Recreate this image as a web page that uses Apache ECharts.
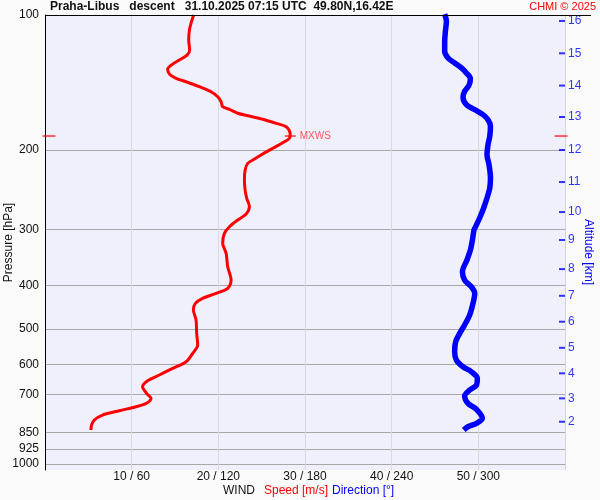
<!DOCTYPE html>
<html>
<head>
<meta charset="utf-8">
<script src="https://cdn.jsdelivr.net/npm/echarts@6/dist/echarts.min.js"></script>
<style>
html,body{margin:0;padding:0;background:#fafafa;}
#chart{width:600px;height:500px;}
</style>
</head>
<body>
<div id="chart"></div>
<script>
// ---- data ----
var titleText = 'Praha-Libus   descent   31.10.2025 07:15 UTC  49.80N,16.42E';
var creditText = 'CHMI \u00a9 2025';

var pressureTicks = [100, 200, 300, 400, 500, 600, 700, 850, 925, 1000];
var speedTicks = [10, 20, 30, 40, 50];
var directionTicks = [60, 120, 180, 240, 300];

var altitudeKm = [16, 15, 14, 13, 12, 11, 10, 9, 8, 7, 6, 5, 4, 3, 2];
var altitudePressure = [103.1, 121.7, 143.6, 168.7, 199.8, 235.5, 274.7, 317, 368, 422, 482, 551, 628, 714, 805];

var speedPressure = [100, 104.3, 108.0, 113.7, 119.7, 122.8, 126.0, 128.6, 132.1, 135.3, 138.4, 140.8, 144.4, 148.2, 152.1, 156.0, 160.0, 162.2, 165.5, 167.9, 170.7, 174.3, 177.4, 183.4, 188.2, 192.5, 198.1, 204.0, 209.3, 214.0, 221.4, 233.1, 245.4, 256.0, 267.3, 277.5, 286.1, 296.2, 306.4, 322.5, 339.5, 363.6, 389.3, 406.2, 416.8, 427.6, 438.7, 453.9, 477.8, 511.6, 543.3, 566.9, 591.8, 612.2, 633.5, 652.3, 672.6, 695.8, 714.0, 732.4, 745.4, 760.8, 777.9, 798.0, 818.7, 840.0];
var speedValues = [17.15, 16.85, 16.66, 16.58, 16.69, 16.39, 15.50, 14.73, 14.15, 14.35, 15.12, 16.28, 17.81, 19.16, 19.93, 20.32, 20.50, 21.28, 22.24, 23.59, 25.12, 26.67, 27.83, 28.29, 28.21, 27.43, 26.28, 25.12, 24.17, 23.39, 23.09, 23.01, 23.09, 23.28, 23.59, 23.21, 22.24, 21.28, 20.70, 20.50, 20.90, 21.08, 21.47, 21.08, 19.74, 18.19, 17.35, 17.12, 17.43, 17.50, 17.62, 17.04, 16.28, 14.73, 13.19, 11.84, 11.26, 11.72, 12.23, 11.72, 10.50, 8.57, 6.64, 5.68, 5.37, 5.30];

var dirPressure = [99.5, 103.3, 108.7, 114.5, 120.5, 124.7, 127.9, 131.2, 134.6, 138.6, 143.4, 147.9, 152.5, 158.4, 162.5, 166.7, 171.1, 177.0, 186.3, 194.5, 204.7, 215.5, 230.7, 242.8, 255.6, 269.0, 283.2, 295.5, 301.2, 317.0, 333.7, 351.3, 372.9, 389.3, 402.9, 416.8, 438.7, 465.8, 490.2, 511.6, 534.1, 562.2, 586.7, 607.2, 623.0, 644.4, 667.0, 684.3, 705.7, 732.4, 755.3, 791.2, 811.8, 826.0, 840.0];
var dirValues = [276.7, 277.9, 277.2, 276.7, 276.7, 279.0, 283.6, 288.3, 291.7, 294.5, 293.5, 290.5, 289.4, 291.7, 297.5, 303.2, 306.7, 308.4, 307.9, 306.7, 306.0, 307.4, 308.4, 307.9, 306.0, 303.7, 300.9, 298.2, 297.0, 295.9, 294.5, 292.1, 289.0, 290.5, 295.2, 297.5, 296.3, 294.0, 290.5, 287.1, 284.3, 283.6, 284.8, 289.4, 295.2, 299.3, 298.7, 294.0, 290.5, 292.8, 298.7, 302.8, 298.7, 292.8, 289.9];

var mxwsLabel = 'MXWS';
var mxwsPressure = 186;
var mxwsSpeed = 28.3;
var speedRange = [0, 60];

// ---- chart ----
var FONT = 'Arial, "Liberation Sans", sans-serif';
var chart = echarts.init(document.getElementById('chart'), null, {renderer: 'canvas'});

function pairs(xs, ys) { return xs.map(function (x, i) { return [x, ys[i]]; }); }

var option = {
  backgroundColor: '#fafafa',
  animation: false,
  textStyle: {fontFamily: FONT},
  grid: {left: 45, top: 15, width: 520, height: 455, show: true, backgroundColor: '#f0f0fd', borderWidth: 0,
         containLabel: false, outerBoundsMode: 'none'},
  xAxis: [{
    type: 'value', min: speedRange[0], max: speedRange[1],
    axisLine: {show: false},
    axisTick: {show: false, customValues: speedTicks},
    axisLabel: {customValues: speedTicks, color: '#111', fontSize: 12, margin: 1, fontFamily: FONT,
      formatter: function (v) { var i = speedTicks.indexOf(Math.round(v)); return speedTicks[i] + ' / ' + directionTicks[i]; }},
    splitLine: {show: true, lineStyle: {color: '#d9d9de', width: 1}}
  }, {
    type: 'value', min: 0, max: 360, show: false, splitLine: {show: false}
  }],
  yAxis: [{
    type: 'log', logBase: 10, min: 100, max: 1031, inverse: true, position: 'left',
    name: 'Pressure [hPa]', nameLocation: 'middle', nameGap: 30, nameMoveOverlap: false,
    nameTextStyle: {color: '#111', fontSize: 12, fontFamily: FONT},
    axisLine: {show: true, onZero: false, lineStyle: {color: '#000', width: 1}},
    axisTick: {show: false, customValues: pressureTicks},
    axisLabel: {customValues: pressureTicks, color: '#111', fontSize: 12, margin: 6, fontFamily: FONT,
      formatter: function (v) { return String(Math.round(v)); }},
    splitLine: {show: true, lineStyle: {color: '#a8a8a8', width: 1}}
  }, {
    type: 'log', logBase: 10, min: 100, max: 1031, inverse: true, position: 'right',
    axisLine: {show: true, onZero: false, lineStyle: {color: '#d4d4dc', width: 1}},
    axisTick: {show: false}, axisLabel: {show: false}, splitLine: {show: false}
  }],
  series: [{
    type: 'line', name: 'Speed', xAxisIndex: 0, yAxisIndex: 0,
    data: pairs(speedValues, speedPressure), showSymbol: false, smooth: 0.3,
    lineStyle: {color: '#ff0000', width: 3}, z: 3
  }, {
    type: 'line', name: 'Direction', xAxisIndex: 1, yAxisIndex: 0,
    data: pairs(dirValues, dirPressure), showSymbol: false, smooth: 0.3, clip: false,
    lineStyle: {color: '#0000ff', width: 5.5}, z: 3
  }, {
    type: 'scatter', name: 'Altitude', xAxisIndex: 0, yAxisIndex: 0, clip: false,
    data: altitudePressure.map(function (p, i) { return [speedRange[1], p]; }),
    symbol: 'rect', symbolSize: [6, 2], symbolOffset: [-3, 0],
    itemStyle: {color: '#0000ff'},
    label: {show: true, position: 'right', distance: 3, color: '#0000ff', fontSize: 12, fontFamily: FONT,
      formatter: function (p) { return String(altitudeKm[p.dataIndex]); }},
    z: 4
  }, {
    type: 'scatter', name: 'MXWS', xAxisIndex: 0, yAxisIndex: 0, clip: false,
    data: [{value: [mxwsSpeed, mxwsPressure], symbolSize: [11, 1.5],
            label: {show: true, position: 'right', distance: 4, formatter: mxwsLabel, color: '#ff3030', fontSize: 10, fontFamily: FONT}},
           {value: [speedRange[0], mxwsPressure], symbolSize: [13, 1.5], symbolOffset: [4, 0]},
           {value: [speedRange[1], mxwsPressure], symbolSize: [13, 1.5], symbolOffset: [-4, 0]}],
    symbol: 'rect', itemStyle: {color: '#ff0000'}, z: 5
  }],
  graphic: [
    {type: 'line', shape: {x1: 45, y1: 15.5, x2: 591, y2: 15.5}, style: {stroke: '#000', lineWidth: 1}, z: 10},
    {type: 'text', left: 50, top: 1, style: {text: titleText, font: 'bold 12px ' + FONT, fill: '#111'}},
    {type: 'text', right: 4, top: 1, style: {text: creditText, font: '11px ' + FONT, fill: '#ff0000'}},
    {type: 'text', x: 588, y: 252, rotation: -Math.PI / 2, style: {text: 'Altitude [km]', font: '12px ' + FONT, fill: '#0000ff', align: 'center', verticalAlign: 'middle'}},
    {type: 'text', x: 239, y: 491, style: {text: 'WIND', font: '12px ' + FONT, fill: '#111', align: 'center', verticalAlign: 'middle'}},
    {type: 'text', x: 264, y: 491, style: {text: 'Speed [m/s]', font: '12px ' + FONT, fill: '#ff0000', align: 'left', verticalAlign: 'middle'}},
    {type: 'text', x: 332, y: 491, style: {text: 'Direction [\u00b0]', font: '12px ' + FONT, fill: '#0000ff', align: 'left', verticalAlign: 'middle'}}
  ]
};
chart.setOption(option);
</script>
</body>
</html>
